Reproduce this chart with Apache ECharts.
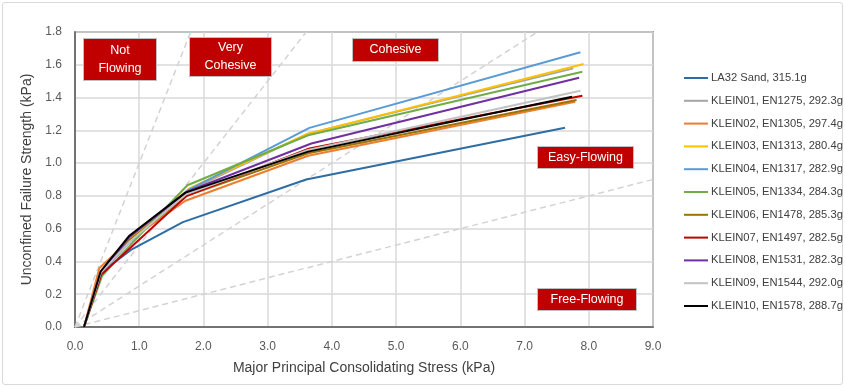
<!DOCTYPE html>
<html>
<head>
<meta charset="utf-8">
<script src="https://cdn.jsdelivr.net/npm/echarts@6/dist/echarts.min.js"></script>
<style>
html,body{margin:0;padding:0;background:#fff;}
#frame{position:absolute;left:2px;top:2px;width:839px;height:381px;border:1px solid #d9d9d9;border-radius:3px;}
#chart{position:absolute;left:0;top:0;width:845px;height:387px;}
</style>
</head>
<body>
<div id="frame"></div>
<div id="chart"></div>
<script>
// ---- data ----
const seriesNames = [
  'LA32 Sand, 315.1g',
  'KLEIN01, EN1275, 292.3g',
  'KLEIN02, EN1305, 297.4g',
  'KLEIN03, EN1313, 280.4g',
  'KLEIN04, EN1317, 282.9g',
  'KLEIN05, EN1334, 284.3g',
  'KLEIN06, EN1478, 285.3g',
  'KLEIN07, EN1497, 282.5g',
  'KLEIN08, EN1531, 282.3g',
  'KLEIN09, EN1544, 292.0g',
  'KLEIN10, EN1578, 288.7g'
];
const seriesColors = ['#2E6DA4','#A5A5A5','#ED7D31','#FFC000','#5B9BD5','#70AD47','#9C7200','#C00000','#7030A0','#C3C3C3','#000000'];

// major principal consolidating stress (x) per series
const sigma1 = [
  [0.14, 0.40, 0.87, 1.68, 3.60, 7.63],
  [0.14, 0.40, 0.85, 1.75, 3.63, 7.76],
  [0.14, 0.38, 0.85, 1.72, 3.63, 7.79],
  [0.14, 0.40, 0.85, 1.78, 3.63, 7.92],
  [0.14, 0.40, 0.85, 1.76, 3.65, 7.87],
  [0.14, 0.42, 0.86, 1.75, 3.63, 7.90],
  [0.14, 0.40, 0.85, 1.74, 3.63, 7.81],
  [0.14, 0.41, 0.88, 1.74, 3.65, 7.90],
  [0.14, 0.40, 0.85, 1.74, 3.68, 7.85],
  [0.14, 0.40, 0.85, 1.73, 3.63, 7.87],
  [0.14, 0.40, 0.84, 1.72, 3.63, 7.74]
];
// unconfined failure strength (y) per series
const sigmaC = [
  [0, 0.33, 0.47, 0.64, 0.90, 1.216],
  [0, 0.33, 0.52, 0.83, 1.18, 1.578],
  [0, 0.36, 0.53, 0.77, 1.045, 1.375],
  [0, 0.33, 0.54, 0.845, 1.18, 1.605],
  [0, 0.32, 0.52, 0.835, 1.215, 1.676],
  [0, 0.31, 0.50, 0.865, 1.17, 1.558],
  [0, 0.33, 0.53, 0.80, 1.06, 1.385],
  [0, 0.32, 0.49, 0.80, 1.09, 1.411],
  [0, 0.33, 0.55, 0.825, 1.12, 1.521],
  [0, 0.33, 0.52, 0.81, 1.08, 1.442],
  [0, 0.34, 0.555, 0.82, 1.07, 1.405]
];
// flow function boundary lines (ffc = sigma1 / sigmaC)
const ffValues = [1, 2, 4, 10];
const xTicks = [0,1,2,3,4,5,6,7,8,9];
const yTicks = [0,0.2,0.4,0.6,0.8,1.0,1.2,1.4,1.6,1.8];
const regionLabels = ['Not\nFlowing', 'Very\nCohesive', 'Cohesive', 'Easy-Flowing', 'Free-Flowing'];

const X_MAX = xTicks[xTicks.length-1], Y_MAX = yTicks[yTicks.length-1];
const FONT = 'Liberation Sans, Arial, sans-serif';

const chart = echarts.init(document.getElementById('chart'));

const refSeries = ffValues.map(ff => {
  const xe = Math.min(X_MAX, Y_MAX * ff);
  return {
    type: 'line', silent: true, symbol: 'none', z: 1,
    data: [[0,0],[xe, xe/ff]],
    lineStyle: {color:'#D3D3D3', width:1.5, type:[6,4]}
  };
});

const dataSeries = seriesNames.map((n,i) => ({
  name: n, type: 'line', symbol: 'none', z: 2 + i,
  data: sigma1[i].map((x,k) => [x, sigmaC[i][k]]),
  lineStyle: {color: seriesColors[i], width: 2},
  itemStyle: {color: seriesColors[i]}
}));

// annotation boxes (pixel layout)
const boxLayout = [
  {x:83, y:38, w:73, h:42},
  {x:189, y:37, w:82, h:39},
  {x:352, y:38, w:86, h:23},
  {x:537, y:146, w:96, h:22},
  {x:537, y:288, w:99, h:22}
];
const graphics = regionLabels.map((t,i) => {
  const b = boxLayout[i];
  return {
    type:'group', left:b.x, top:b.y, z:100,
    children:[
      {type:'rect', z:100, shape:{x:0,y:0,width:b.w,height:b.h}, style:{fill:'#C00000', stroke:'#BFBFBF', lineWidth:1}},
      {type:'text', z:101, x:b.w/2, y:b.h/2, style:{text:t, fill:'#fff', font:'12.5px '+FONT, align:'center', verticalAlign:'middle', lineHeight:18}}
    ]
  };
});

chart.setOption({
  animation: false,
  backgroundColor: 'transparent',
  grid: {left:75, right:192, top:32, bottom:60, show:true, borderColor:'#595959', borderWidth:1.5},
  legend: {
    data: seriesNames, orient:'vertical', left:679, top:66,
    icon:'rect', itemWidth:24, itemHeight:2, itemGap:8.8,
    textStyle:{fontFamily:FONT, fontSize:11.2, color:'#404040', lineHeight:14, padding:[0,0,0,-2]}
  },
  xAxis: {
    type:'value', min:0, max:X_MAX, interval:1,
    name:'Major Principal Consolidating Stress (kPa)', nameLocation:'middle', nameGap:34,
    nameTextStyle:{fontFamily:FONT, fontSize:14, color:'#404040'},
    axisLine:{show:true, lineStyle:{color:'#595959', width:1.5}},
    axisTick:{show:false},
    axisLabel:{fontFamily:FONT, fontSize:12, color:'#595959', margin:14, formatter:v=>v.toFixed(1)},
    splitLine:{show:true, lineStyle:{color:'#D9D9D9', width:1.5}}
  },
  yAxis: {
    type:'value', min:0, max:Y_MAX, interval:0.2,
    name:'Unconfined Failure Strength (kPa)', nameLocation:'middle', nameGap:40,
    nameTextStyle:{fontFamily:FONT, fontSize:14, color:'#404040'},
    axisLine:{show:true, lineStyle:{color:'#595959', width:1.5}},
    axisTick:{show:false},
    axisLabel:{fontFamily:FONT, fontSize:12, color:'#595959', margin:13, formatter:v=>v.toFixed(1)},
    splitLine:{show:true, lineStyle:{color:'#D9D9D9', width:1.5}}
  },
  series: refSeries.concat(dataSeries),
  graphic: graphics
});
</script>
</body>
</html>
